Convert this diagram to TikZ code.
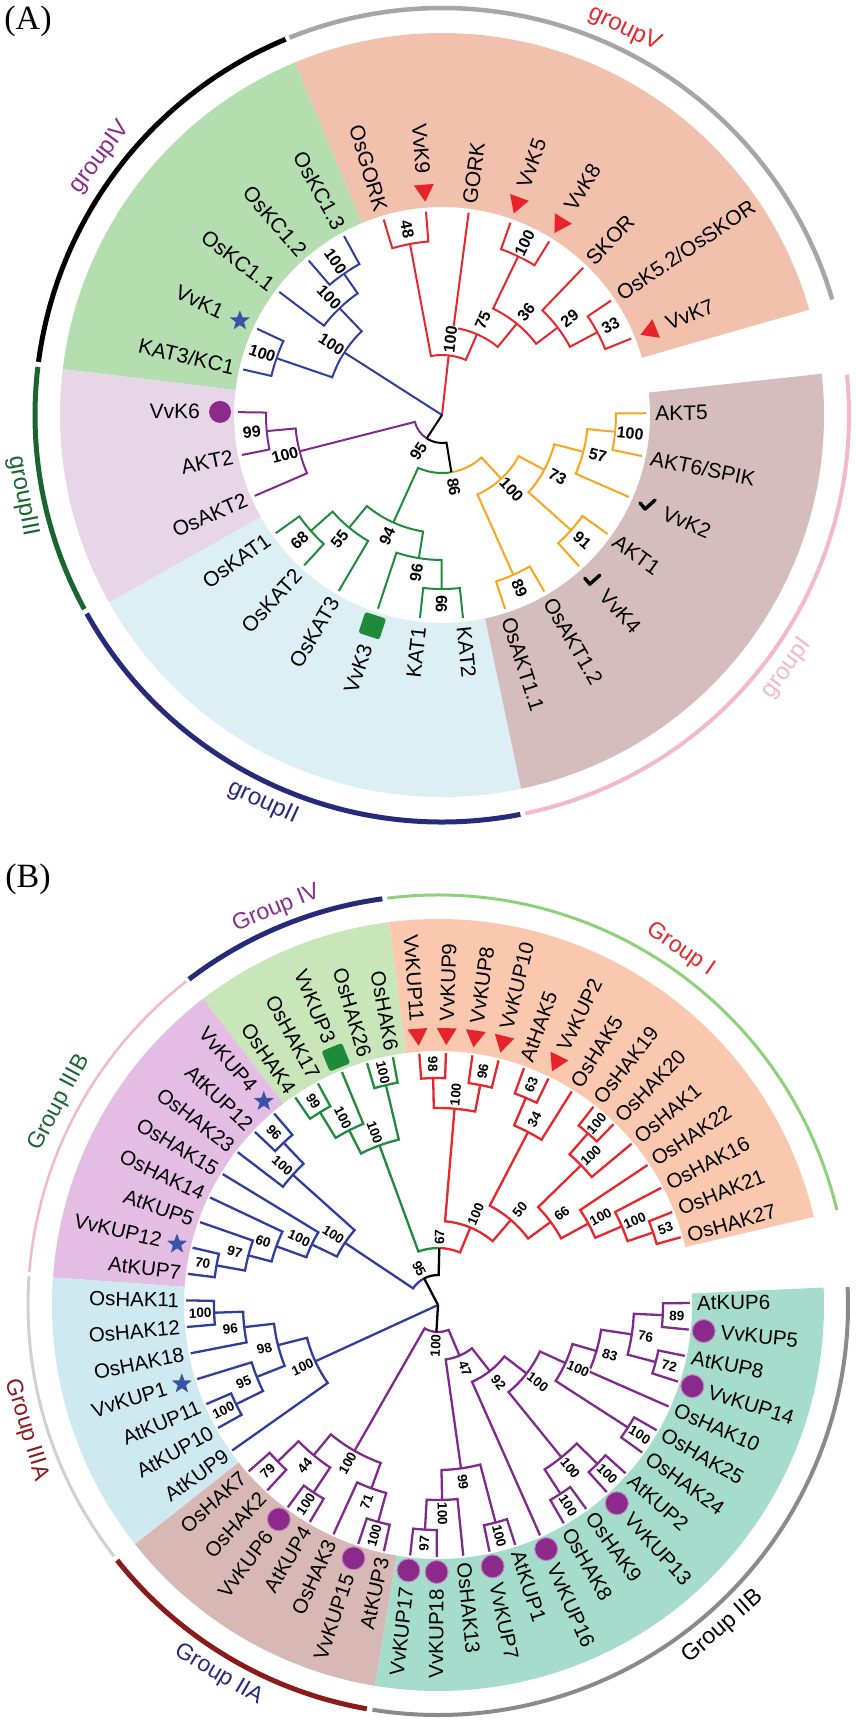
\documentclass[tikz,border=0pt]{standalone}
\usepackage{fontspec}
\setmainfont{Liberation Sans}
\newfontfamily\serifpanel{Liberation Serif}
\usetikzlibrary{shapes.geometric}
% colours
\definecolor{sVa}{HTML}{F2C1AE}\definecolor{sIVa}{HTML}{B4DDB0}\definecolor{sIIIa}{HTML}{E6D6E8}
\definecolor{sIIa}{HTML}{DCEFF5}\definecolor{sIa}{HTML}{D5BDBD}
\definecolor{sIb}{HTML}{F9C8AE}\definecolor{sIVb}{HTML}{C8E6B9}\definecolor{sIIIBb}{HTML}{E3BDE4}
\definecolor{sIIIAb}{HTML}{CFE9F0}\definecolor{sIIAb}{HTML}{D7B8B4}\definecolor{sIIBb}{HTML}{A6DCCB}
\definecolor{cRed}{HTML}{E8262B}\definecolor{cBlue}{HTML}{2F3E9E}\definecolor{cPur}{HTML}{7E2B8C}
\definecolor{cGrn}{HTML}{218B3D}\definecolor{cYel}{HTML}{F9A61A}
\definecolor{rGray}{HTML}{A6A6A6}\definecolor{rDkGrn}{HTML}{1A6630}\definecolor{rNavy}{HTML}{262A7A}
\definecolor{rPink}{HTML}{F4B9C9}\definecolor{rLtGrn}{HTML}{8FD17A}\definecolor{rLtGray}{HTML}{D0D0D0}
\definecolor{rDkRed}{HTML}{8B1A1A}\definecolor{rMidGray}{HTML}{8A8A8A}
\definecolor{gPur}{HTML}{8B2D8B}\definecolor{mStar}{HTML}{3A53A4}\definecolor{mPur}{HTML}{8B2A8A}
\definecolor{mGrn}{HTML}{1E8A3A}\definecolor{mRed}{HTML}{E8232A}
% macros
\newcommand{\phClade}[6]{\draw[#1] (#3:#4) -- (#3:#2) arc[start angle=#3, end angle=#5, radius=#2] -- (#5:#6);}
\newcommand{\phBr}[5]{\draw[#1] (#3:#2) arc[start angle=#3, end angle=#4, radius=#2] -- (#4:#5);}
\newcommand{\phSect}[5]{\fill[#1] (#2:#4) arc[start angle=#2, end angle=#3, radius=#4] -- (#3:#5) arc[start angle=#3, end angle=#2, radius=#5] -- cycle;}
\newcommand{\phRing}[4]{\draw[#1] (#2:#4) arc[start angle=#2, end angle=#3, radius=#4];}
\newcommand{\phLeaf}[5][lblA]{%
  \pgfmathtruncatemacro{\isleft}{cos(#3)<0 ? 1 : 0}%
  \ifnum\isleft=1 \node[#1, anchor=east, rotate=#3-180] (#2) at (#3:#4) {#5};%
  \else \node[#1, anchor=west, rotate=#3] (#2) at (#3:#4) {#5};\fi}
\newcommand{\phBoot}[5][bsA]{%
  \pgfmathtruncatemacro{\isleft}{cos(#3)<0 ? 1 : 0}%
  \ifnum\isleft=1 \node[#1, rotate=#3-180] (#2) at (#3:#4) {#5};%
  \else \node[#1, rotate=#3] (#2) at (#3:#4) {#5};\fi}
\newcommand{\phGrp}[5]{%
  \pgfmathtruncatemacro{\isup}{sin(#3)>0 ? 1 : 0}%
  \ifnum\isup=1 \node[#1, rotate=#3-90] (#2) at (#3:#4) {#5};%
  \else \node[#1, rotate=#3+90] (#2) at (#3:#4) {#5};\fi}
\newcommand{\phTri}[2]{\fill[mRed, shift={(#1:#2)}, rotate=#1] (-9,0) -- (8,10) -- (8,-10) -- cycle;}
\newcommand{\phStar}[3]{\node[star, star points=5, star point ratio=2.4, minimum size=21pt, inner sep=0pt, fill=mStar] (#1) at (#2:#3) {};}
\newcommand{\phCirc}[3][mPur]{\fill[#1] (#2:#3) circle[radius=11];}
\newcommand{\phSq}[2]{\fill[mGrn, rounded corners=2.5pt, shift={(#1:#2)}, rotate=#1] (-11,-11) rectangle (11,11);}
\newcommand{\phChk}[2]{\draw[line width=3.4pt, line cap=round, line join=round, shift={(#1:#2)}] (-7,2) -- (-2,-4) -- (8,5);}
\begin{document}
\begin{tikzpicture}[x=1pt,y=1pt,
  lblA/.style={font=\fontsize{21}{21}\selectfont, inner sep=0pt},
  lblB/.style={font=\fontsize{20.5}{20.5}\selectfont, inner sep=0pt},
  bsA/.style={font=\fontsize{16}{16}\selectfont\bfseries, inner sep=0.6pt, fill=white},
  bsB/.style={font=\fontsize{13.5}{13.5}\selectfont\bfseries, inner sep=0.5pt, fill=white},
  grpA/.style={font=\fontsize{24}{24}\selectfont, inner sep=0pt},
  grpB/.style={font=\fontsize{23}{23}\selectfont, inner sep=0pt},
  brA/.style={line width=2pt},
  brB/.style={line width=2.3pt},
  ]
\fill[white] (0,0) rectangle (855,-1723);
\useasboundingbox (0,0) rectangle (855,-1723);
\node[font=\serifpanel\fontsize{34}{34}\selectfont, inner sep=0pt] (panelA) at (28,-21) {(A)};
\node[font=\serifpanel\fontsize{34}{34}\selectfont, inner sep=0pt] (panelB) at (28,-879) {(B)};

% ================= TREE A =================
\begin{scope}[shift={(442,-415)}]
\phSect{sVa}{16.0}{112.65}{208}{382}
\phSect{sIVa}{112.65}{173.1}{208}{382}
\phSect{sIIIa}{173.1}{209.4}{208}{382}
\phSect{sIIa}{209.4}{281.95}{208}{382}
\phSect{sIa}{281.95}{366.2}{208}{382}
\phRing{line width=4.5pt, rGray}{16.5}{112}{407}
\phRing{line width=5pt, black}{112.6}{172.5}{407}
\phRing{line width=5pt, rDkGrn}{173.2}{208.5}{407}
\phRing{line width=5pt, rNavy}{209.2}{281.1}{407}
\phRing{line width=4pt, rPink}{281.8}{365.7}{407}
\phGrp{grpA, text=cRed}{A-gV}{64.7}{427}{groupV}
\phGrp{grpA, text=gPur}{A-gIV}{143}{428}{groupIV}
\phGrp{grpA, text=rDkGrn}{A-gIII}{191}{427}{groupIII}
\phGrp{grpA, text=rNavy}{A-gII}{245.2}{427}{groupII}
\phGrp{grpA, text=rPink}{A-gI}{323.7}{428}{groupI}
% group V
\phClade{brA,cRed}{174}{106.6}{204}{94.5}{204}
\phClade{brA,cRed}{176}{34.1}{204}{22.0}{204}
\phClade{brA,cRed}{145}{46.2}{204}{28.05}{176}
\phClade{brA,cRed}{176}{70.4}{204}{58.3}{204}
\phClade{brA,cRed}{118}{64.35}{176}{37.1}{145}
\phClade{brA,cRed}{88}{82.5}{204}{50.7}{118}
\phClade{brA,cRed}{60}{100.6}{174}{66.6}{88}
\draw[brA,cRed] (0,0) -- (83.6:60);
% group IV
\phClade{brA,cBlue}{172}{118.7}{204}{130.8}{204}
\phClade{brA,cBlue}{148}{124.75}{172}{142.9}{204}
\phClade{brA,cBlue}{175}{155.0}{204}{167.1}{204}
\phClade{brA,cBlue}{116}{133.8}{148}{161.05}{175}
\draw[brA,cBlue] (0,0) -- (147.4:116);
% group III
\phClade{brA,cPur}{176}{179.2}{204}{191.3}{204}
\phClade{brA,cPur}{147}{185.25}{176}{203.35}{204}
% group II
\phClade{brA,cGrn}{175}{215.4}{204}{227.5}{204}
\phClade{brA,cGrn}{146}{221.45}{175}{239.6}{204}
\phClade{brA,cGrn}{174}{263.8}{204}{275.9}{204}
\phClade{brA,cGrn}{145}{251.7}{204}{269.85}{174}
\phClade{brA,cGrn}{118}{230.5}{146}{260.8}{145}
% group I
\phClade{brA,cYel}{175}{288.0}{204}{300.1}{204}
\phClade{brA,cYel}{173}{312.2}{204}{324.3}{204}
\phClade{brA,cYel}{174}{348.4}{204}{360.5}{204}
\phClade{brA,cYel}{146}{336.3}{204}{354.45}{174}
\phClade{brA,cYel}{116}{318.25}{173}{345.4}{146}
\phClade{brA,cYel}{87}{294.05}{175}{331.8}{116}
% deep nodes
\phBr{brA,cGrn}{58}{279.3}{245.65}{118}
\phBr{brA,cYel}{58}{279.3}{312.9}{87}
\phBr{brA,cPur}{28}{236.8}{194.3}{147}
\phBr{brA,black}{28}{236.8}{279.3}{58}
\draw[brA,black] (0,0) -- (236.8:28);
% markers
\phTri{22.0}{223}\phTri{58.3}{223}\phTri{70.4}{223}\phTri{94.5}{223}
\phStar{A-m1}{155.0}{223}
\phCirc{179.2}{222}
\phSq{251.7}{222}
\phChk{312.2}{223}\phChk{336.3}{224}
% leaves
\phLeaf{A-l0}{22.0}{242}{VvK7}
\phLeaf{A-l1}{34.1}{213}{OsK5.2/OsSKOR}
\phLeaf{A-l2}{46.2}{213}{SKOR}
\phLeaf{A-l3}{58.3}{242}{VvK8}
\phLeaf{A-l4}{70.4}{242}{VvK5}
\phLeaf{A-l5}{82.5}{213}{GORK}
\phLeaf{A-l6}{94.5}{242}{VvK9}
\phLeaf{A-l7}{106.6}{213}{OsGORK}
\phLeaf{A-l8}{118.7}{213}{OsKC1.3}
\phLeaf{A-l9}{130.8}{213}{OsKC1.2}
\phLeaf{A-l10}{142.9}{213}{OsKC1.1}
\phLeaf{A-l11}{155.0}{242}{VvK1}
\phLeaf{A-l12}{167.1}{213}{KAT3/KC1}
\phLeaf{A-l13}{179.2}{242}{VvK6}
\phLeaf{A-l14}{191.3}{213}{AKT2}
\phLeaf{A-l15}{203.35}{213}{OsAKT2}
\phLeaf{A-l16}{215.4}{213}{OsKAT1}
\phLeaf{A-l17}{227.5}{213}{OsKAT2}
\phLeaf{A-l18}{239.6}{213}{OsKAT3}
\phLeaf{A-l19}{251.7}{242}{VvK3}
\phLeaf{A-l20}{263.8}{213}{KAT1}
\phLeaf{A-l21}{275.9}{213}{KAT2}
\phLeaf{A-l22}{288.0}{213}{OsAKT1.1}
\phLeaf{A-l23}{300.1}{213}{OsAKT1.2}
\phLeaf{A-l24}{312.2}{240}{VvK4}
\phLeaf{A-l25}{324.3}{213}{AKT1}
\phLeaf{A-l26}{336.3}{242}{VvK2}
\phLeaf{A-l27}{348.4}{213}{AKT6/SPIK}
\phLeaf{A-l28}{360.5}{213}{AKT5}
% bootstrap
\phBoot{A-b1}{100.6}{189}{48}
\phBoot{A-b2}{28.05}{191}{33}
\phBoot{A-b3}{37.1}{160}{29}
\phBoot{A-b4}{64.35}{191}{100}
\phBoot{A-b5}{50.7}{133}{36}
\phBoot{A-b6}{66.6}{103}{75}
\phBoot{A-b7}{83.6}{76}{100}
\phBoot{A-b8}{124.75}{187}{100}
\phBoot{A-b9}{133.8}{163}{100}
\phBoot{A-b10}{161.05}{190}{100}
\phBoot{A-b11}{147.4}{131}{100}
\phBoot{A-b12}{185.25}{191}{99}
\phBoot{A-b13}{194.3}{162}{100}
\phBoot{A-b14}{221.45}{190}{68}
\phBoot{A-b15}{230.5}{161}{55}
\phBoot{A-b16}{269.85}{189}{99}
\phBoot{A-b17}{260.8}{160}{96}
\phBoot{A-b18}{245.65}{133}{94}
\phBoot{A-b19}{294.05}{190}{89}
\phBoot{A-b20}{318.25}{188}{91}
\phBoot{A-b21}{354.45}{189}{100}
\phBoot{A-b22}{345.4}{161}{57}
\phBoot{A-b23}{331.8}{131}{73}
\phBoot{A-b24}{312.9}{102}{100}
\phBoot{A-b25}{279.3}{73}{86}
\phBoot{A-b26}{236.8}{43}{95}
\end{scope}

% ================= TREE B =================
\begin{scope}[shift={(438,-1305)}]
\phSect{sIb}{13.2}{97.3}{254}{386}
\phSect{sIVb}{97.3}{127.5}{254}{386}
\phSect{sIIIBb}{127.5}{175.9}{254}{386}
\phSect{sIIIAb}{175.9}{218.3}{254}{386}
\phSect{sIIAb}{218.3}{260.6}{254}{386}
\phSect{sIIBb}{260.6}{362.6}{254}{386}
\phRing{line width=3pt, rLtGrn}{13.4}{97.1}{410}
\phRing{line width=5pt, rNavy}{97.8}{127.4}{410}
\phRing{line width=2.5pt, rPink}{127.9}{175.4}{410}
\phRing{line width=3pt, rLtGray}{176}{217.8}{410}
\phRing{line width=5pt, rDkRed}{218.5}{260}{410}
\phRing{line width=4pt, rMidGray}{260.8}{362.5}{410}
\phGrp{grpB, text=gPur}{B-gIV}{112.2}{428}{Group IV}
\phGrp{grpB, text=cRed}{B-gI}{55.7}{430}{Group I}
\phGrp{grpB, text=rDkGrn}{B-gIIIB}{151.9}{429}{Group IIIB}
\phGrp{grpB, text=rDkRed}{B-gIIIA}{196.9}{430}{Group IIIA}
\phGrp{grpB, text=rNavy}{B-gIIA}{239.3}{430}{Group IIA}
\phGrp{grpB, text=black}{B-gIIB}{311.5}{430}{Group IIB}
% group I
\phClade{brB,cRed}{227}{94.25}{252}{88.2}{252}
\phClade{brB,cRed}{224}{82.15}{252}{76.1}{252}
\phClade{brB,cRed}{197}{91.225}{227}{79.125}{224}
\phClade{brB,cRed}{225}{70.05}{252}{64.0}{252}
\phClade{brB,cRed}{195}{67.025}{225}{57.95}{252}
\phClade{brB,cRed}{228}{51.9}{252}{45.85}{252}
\phClade{brB,cRed}{200}{48.875}{228}{39.8}{252}
\phClade{brB,cRed}{227}{15.6}{252}{21.65}{252}
\phClade{brB,cRed}{200}{18.625}{227}{27.7}{252}
\phClade{brB,cRed}{171}{23.16}{200}{33.75}{252}
\phClade{brB,cRed}{140}{44.34}{200}{28.455}{171}
\phClade{brB,cRed}{112}{62.49}{195}{36.4}{140}
\phClade{brB,cRed}{84}{85.175}{197}{49.445}{112}
% group IV
\phClade{brB,cGrn}{226}{124.5}{252}{118.45}{252}
\phClade{brB,cGrn}{196}{121.475}{226}{112.4}{252}
\phClade{brB,cGrn}{226}{100.3}{252}{106.35}{252}
\phClade{brB,cGrn}{170}{116.94}{196}{103.325}{226}
\phBr{brB,cGrn}{57}{88.72}{110.13}{170}
\phBr{brB,cRed}{57}{88.72}{67.31}{84}
% group IIIB
\phClade{brB,cBlue}{224}{130.55}{252}{136.6}{252}
\phClade{brB,cBlue}{195}{133.575}{224}{142.65}{252}
\phClade{brB,cBlue}{225}{166.85}{252}{172.9}{252}
\phClade{brB,cBlue}{196}{169.875}{225}{160.8}{252}
\phClade{brB,cBlue}{172}{165.34}{196}{154.75}{252}
\phClade{brB,cBlue}{140}{160.045}{172}{148.7}{252}
\phClade{brB,cBlue}{112}{154.37}{140}{138.11}{195}
\phBr{brB,cBlue}{30}{117.48}{146.24}{112}
\phBr{brB,black}{30}{117.48}{88.72}{57}
\draw[brB,black] (0,0) -- (117.48:30);
% group IIIA
\phClade{brB,cBlue}{224}{178.95}{252}{185.0}{252}
\phClade{brB,cBlue}{195}{181.975}{224}{191.05}{252}
\phClade{brB,cBlue}{225}{203.15}{252}{209.2}{252}
\phClade{brB,cBlue}{195}{197.1}{252}{206.175}{225}
\phClade{brB,cBlue}{165}{186.51}{195}{201.64}{195}
\phClade{brB,cBlue}{135}{194.075}{165}{215.25}{252}
\draw[brB,cBlue] (0,0) -- (204.66:135);
% group IIA
\phClade{brB,cPur}{224}{221.3}{252}{227.35}{252}
\phClade{brB,cPur}{225}{233.4}{252}{239.45}{252}
\phClade{brB,cPur}{195}{224.325}{224}{236.425}{225}
\phClade{brB,cPur}{225}{251.55}{252}{257.6}{252}
\phClade{brB,cPur}{195}{245.5}{252}{254.575}{225}
\phClade{brB,cPur}{168}{230.375}{195}{250.04}{195}
% group IIB
\phClade{brB,cPur}{225}{263.65}{252}{269.7}{252}
\phClade{brB,cPur}{195}{266.675}{225}{275.75}{252}
\phClade{brB,cPur}{225}{281.8}{252}{287.85}{252}
\phClade{brB,cPur}{165}{271.21}{195}{284.825}{225}
\phClade{brB,cPur}{225}{299.95}{252}{306.0}{252}
\phClade{brB,cPur}{225}{312.05}{252}{318.1}{252}
\phClade{brB,cPur}{196}{302.975}{225}{315.075}{225}
\phClade{brB,cPur}{226}{324.15}{252}{330.2}{252}
\phClade{brB,cPur}{225}{354.4}{252}{360.45}{252}
\phClade{brB,cPur}{225}{342.3}{252}{348.35}{252}
\phClade{brB,cPur}{196}{345.325}{225}{357.425}{225}
\phClade{brB,cPur}{165}{336.25}{252}{351.375}{196}
\phClade{brB,cPur}{140}{327.175}{226}{343.81}{165}
\phClade{brB,cPur}{112}{309.025}{196}{335.49}{140}
\phClade{brB,cPur}{84}{293.9}{252}{322.26}{112}
\phClade{brB,cPur}{55}{278.02}{165}{308.08}{84}
\phClade{brB,cPur}{27}{240.21}{168}{293.05}{55}
\draw[brB,black] (0,0) -- (266.63:27);
% markers
\phTri{64.0}{269}\phTri{76.1}{269}\phTri{82.15}{269}\phTri{88.2}{269}\phTri{94.25}{269}
\phSq{112.4}{268}
\phStar{B-m1}{130.55}{268}\phStar{B-m2}{166.85}{268}\phStar{B-m3}{197.1}{268}
\foreach \a in {233.4,251.55,263.65,269.7,281.8,293.9,312.05,342.3,354.4}{
  \fill[mPur] (\a:267) circle[radius=11.5];
  \draw[line width=1pt, mPur!55!white] (\a:267) circle[radius=11.5];}
% leaves
\phLeaf[lblB]{B-l0}{15.6}{259}{OsHAK27}
\phLeaf[lblB]{B-l1}{21.65}{259}{OsHAK21}
\phLeaf[lblB]{B-l2}{27.7}{259}{OsHAK16}
\phLeaf[lblB]{B-l3}{33.75}{259}{OsHAK22}
\phLeaf[lblB]{B-l4}{39.8}{259}{OsHAK1}
\phLeaf[lblB]{B-l5}{45.85}{259}{OsHAK20}
\phLeaf[lblB]{B-l6}{51.9}{259}{OsHAK19}
\phLeaf[lblB]{B-l7}{57.95}{259}{OsHAK5}
\phLeaf[lblB]{B-l8}{64.0}{284}{VvKUP2}
\phLeaf[lblB]{B-l9}{70.05}{259}{AtHAK5}
\phLeaf[lblB]{B-l10}{76.1}{284}{VvKUP10}
\phLeaf[lblB]{B-l11}{82.15}{284}{VvKUP8}
\phLeaf[lblB]{B-l12}{88.2}{284}{VvKUP9}
\phLeaf[lblB]{B-l13}{94.25}{284}{VvKUP11}
\phLeaf[lblB]{B-l14}{100.3}{259}{OsHAK6}
\phLeaf[lblB]{B-l15}{106.35}{259}{OsHAK26}
\phLeaf[lblB]{B-l16}{112.4}{284}{VvKUP3}
\phLeaf[lblB]{B-l17}{118.45}{259}{OsHAK17}
\phLeaf[lblB]{B-l18}{124.5}{259}{OsHAK4}
\phLeaf[lblB]{B-l19}{130.55}{284}{VvKUP4}
\phLeaf[lblB]{B-l20}{136.6}{259}{AtKUP12}
\phLeaf[lblB]{B-l21}{142.65}{259}{OsHAK23}
\phLeaf[lblB]{B-l22}{148.7}{259}{OsHAK15}
\phLeaf[lblB]{B-l23}{154.75}{259}{OsHAK14}
\phLeaf[lblB]{B-l24}{160.8}{259}{AtKUP5}
\phLeaf[lblB]{B-l25}{166.85}{284}{VvKUP12}
\phLeaf[lblB]{B-l26}{172.9}{259}{AtKUP7}
\phLeaf[lblB]{B-l27}{178.95}{259}{OsHAK11}
\phLeaf[lblB]{B-l28}{185.0}{259}{OsHAK12}
\phLeaf[lblB]{B-l29}{191.05}{259}{OsHAK18}
\phLeaf[lblB]{B-l30}{197.1}{284}{VvKUP1}
\phLeaf[lblB]{B-l31}{203.15}{259}{AtKUP11}
\phLeaf[lblB]{B-l32}{209.2}{259}{AtKUP10}
\phLeaf[lblB]{B-l33}{215.25}{259}{AtKUP9}
\phLeaf[lblB]{B-l34}{221.3}{259}{OsHAK7}
\phLeaf[lblB]{B-l35}{227.35}{259}{OsHAK2}
\phLeaf[lblB]{B-l36}{233.4}{284}{VvKUP6}
\phLeaf[lblB]{B-l37}{239.45}{259}{AtKUP4}
\phLeaf[lblB]{B-l38}{245.5}{259}{OsHAK3}
\phLeaf[lblB]{B-l39}{251.55}{284}{VvKUP15}
\phLeaf[lblB]{B-l40}{257.6}{259}{AtKUP3}
\phLeaf[lblB]{B-l41}{263.65}{284}{VvKUP17}
\phLeaf[lblB]{B-l42}{269.7}{284}{VvKUP18}
\phLeaf[lblB]{B-l43}{275.75}{259}{OsHAK13}
\phLeaf[lblB]{B-l44}{281.8}{284}{VvKUP7}
\phLeaf[lblB]{B-l45}{287.85}{259}{AtKUP1}
\phLeaf[lblB]{B-l46}{293.9}{284}{VvKUP16}
\phLeaf[lblB]{B-l47}{299.95}{259}{OsHAK8}
\phLeaf[lblB]{B-l48}{306.0}{259}{OsHAK9}
\phLeaf[lblB]{B-l49}{312.05}{284}{VvKUP13}
\phLeaf[lblB]{B-l50}{318.1}{259}{AtKUP2}
\phLeaf[lblB]{B-l51}{324.15}{259}{OsHAK24}
\phLeaf[lblB]{B-l52}{330.2}{259}{OsHAK25}
\phLeaf[lblB]{B-l53}{336.25}{259}{OsHAK10}
\phLeaf[lblB]{B-l54}{342.3}{284}{VvKUP14}
\phLeaf[lblB]{B-l55}{348.35}{259}{AtKUP8}
\phLeaf[lblB]{B-l56}{354.4}{284}{VvKUP5}
\phLeaf[lblB]{B-l57}{360.45}{259}{AtKUP6}
% bootstrap
\phBoot[bsB]{B-b1}{91.225}{241}{98}
\phBoot[bsB]{B-b2}{79.125}{238}{96}
\phBoot[bsB]{B-b3}{85.175}{211}{100}
\phBoot[bsB]{B-b4}{67.025}{239}{63}
\phBoot[bsB]{B-b5}{62.49}{209}{34}
\phBoot[bsB]{B-b6}{48.875}{241}{100}
\phBoot[bsB]{B-b7}{44.34}{214}{100}
\phBoot[bsB]{B-b8}{18.625}{240}{53}
\phBoot[bsB]{B-b9}{23.16}{214}{100}
\phBoot[bsB]{B-b10}{28.455}{185}{100}
\phBoot[bsB]{B-b11}{36.4}{154}{66}
\phBoot[bsB]{B-b12}{49.445}{126}{50}
\phBoot[bsB]{B-b13}{67.31}{98}{100}
\phBoot[bsB]{B-b14}{121.475}{239}{99}
\phBoot[bsB]{B-b15}{116.94}{210}{100}
\phBoot[bsB]{B-b16}{103.325}{239}{100}
\phBoot[bsB]{B-b17}{110.13}{184}{100}
\phBoot[bsB]{B-b18}{88.72}{68}{67}
\phBoot[bsB]{B-b19}{133.575}{238}{96}
\phBoot[bsB]{B-b20}{138.11}{209}{100}
\phBoot[bsB]{B-b21}{169.875}{239}{70}
\phBoot[bsB]{B-b22}{165.34}{210}{97}
\phBoot[bsB]{B-b23}{160.045}{186}{60}
\phBoot[bsB]{B-b24}{154.37}{154}{100}
\phBoot[bsB]{B-b25}{146.24}{126}{100}
\phBoot[bsB]{B-b26}{117.48}{41}{95}
\phBoot[bsB]{B-b27}{181.975}{238}{100}
\phBoot[bsB]{B-b28}{186.51}{209}{96}
\phBoot[bsB]{B-b29}{206.175}{239}{100}
\phBoot[bsB]{B-b30}{201.64}{209}{95}
\phBoot[bsB]{B-b31}{194.075}{179}{98}
\phBoot[bsB]{B-b32}{204.66}{149}{100}
\phBoot[bsB]{B-b33}{224.325}{238}{79}
\phBoot[bsB]{B-b34}{236.425}{239}{100}
\phBoot[bsB]{B-b35}{230.375}{209}{44}
\phBoot[bsB]{B-b36}{254.575}{239}{100}
\phBoot[bsB]{B-b37}{250.04}{209}{71}
\phBoot[bsB]{B-b38}{240.21}{182}{100}
\phBoot[bsB]{B-b39}{266.675}{239}{97}
\phBoot[bsB]{B-b40}{271.21}{209}{100}
\phBoot[bsB]{B-b41}{284.825}{239}{100}
\phBoot[bsB]{B-b42}{278.02}{179}{99}
\phBoot[bsB]{B-b43}{302.975}{239}{100}
\phBoot[bsB]{B-b44}{315.075}{239}{100}
\phBoot[bsB]{B-b45}{309.025}{210}{100}
\phBoot[bsB]{B-b46}{327.175}{240}{100}
\phBoot[bsB]{B-b47}{357.425}{239}{89}
\phBoot[bsB]{B-b48}{345.325}{239}{72}
\phBoot[bsB]{B-b49}{351.375}{210}{76}
\phBoot[bsB]{B-b50}{343.81}{179}{83}
\phBoot[bsB]{B-b51}{335.49}{154}{100}
\phBoot[bsB]{B-b52}{322.26}{126}{100}
\phBoot[bsB]{B-b53}{308.08}{98}{92}
\phBoot[bsB]{B-b54}{293.05}{69}{47}
\phBoot[bsB]{B-b55}{266.63}{41}{100}
\end{scope}
\end{tikzpicture}
\end{document}
